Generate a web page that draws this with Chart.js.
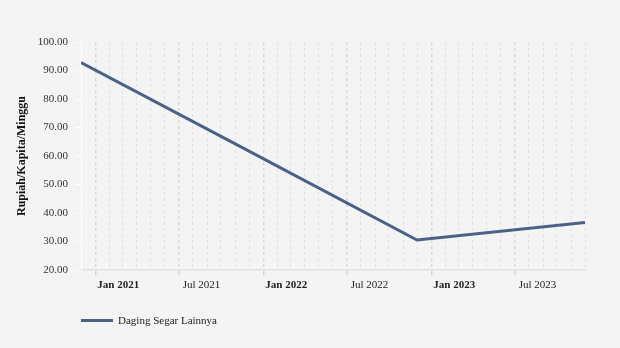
<!DOCTYPE html>
<html>
<head>
<meta charset="utf-8">
<script src="https://cdn.jsdelivr.net/npm/chart.js@4/dist/chart.umd.min.js"></script>
<style>
    html, body { margin: 0; padding: 0; background: #f4f4f4; }
    #wrap { position: relative; width: 620px; height: 348px; }
    #legend { position: absolute; left: 81px; top: 314px; font: 11px 'Liberation Serif', 'Times New Roman', serif; color: #222; }
    #legend .itemMaker { display: inline-block; width: 32px; height: 3px; vertical-align: middle; margin-right: 5px; position: relative; top: -1px; }
</style>
</head>
<body>
<div id="wrap">
    <canvas id="myChart" width="620" height="348"></canvas>
    <div id="legend"></div>
</div>
<script>
// data (annual figures, plotted in December)
const periods = ['2020-12', '2021-12', '2022-12', '2023-12'];
const values = [92.8, 61.7, 30.5, 36.7];
const seriesLabel = 'Daging Segar Lainnya';
const monthNames = ['Jan', 'Feb', 'Mar', 'Apr', 'May', 'Jun', 'Jul', 'Aug', 'Sep', 'Oct', 'Nov', 'Dec'];
const yTicks = [20, 30, 40, 50, 60, 70, 80, 90, 100];

const lineColor = '#4a6286';
const fontFamily = "'Liberation Serif', 'Times New Roman', serif";

function toTime(period) {
    const parts = period.split('-');
    return Date.UTC(+parts[0], +parts[1] - 1, 1);
}

const points = periods.map((p, i) => ({ x: toTime(p), y: values[i] }));
const xMin = points[0].x;
const xMax = points[points.length - 1].x;

function monthTicks() {
    const ticks = [];
    const start = new Date(xMin);
    let y = start.getUTCFullYear(), m = start.getUTCMonth();
    while (true) {
        const t = Date.UTC(y, m, 1);
        if (t > xMax) break;
        if (t >= xMin) ticks.push({ value: t });
        m++;
        if (m > 11) { m = 0; y++; }
    }
    return ticks;
}

function monthOf(value) {
    return new Date(value).getUTCMonth();
}

function isMajor(value) {
    const m = monthOf(value);
    return m === 0 || m === 6;
}

const ctx = document.getElementById('myChart');
const myChart = new Chart(ctx, {
    type: 'line',
    data: {
        datasets: [{
            label: seriesLabel,
            data: points,
            borderColor: lineColor,
            backgroundColor: lineColor,
            borderWidth: 3,
            pointRadius: 0,
            tension: 0
        }]
    },
    options: {
        responsive: false,
        animation: false,
        layout: { padding: { left: 0, right: 35, top: 42, bottom: 0 } },
        plugins: {
            legend: { display: false },
            tooltip: { enabled: false }
        },
        scales: {
            x: {
                type: 'linear',
                min: xMin,
                max: xMax,
                afterBuildTicks: (scale) => { scale.ticks = monthTicks(); },
                afterFit: (scale) => { scale.height = 78; },
                grid: {
                    color: (c) => isMajor(c.tick.value) ? '#d8d8d8' : '#e2e2e2',
                    tickColor: (c) => isMajor(c.tick.value) ? '#d4d4d4' : 'rgba(0,0,0,0)',
                    tickLength: 5,
                    lineWidth: (c) => isMajor(c.tick.value) ? 1.5 : 1
                },
                border: { color: '#e2e2e2', width: 1.5, dash: [3, 3] },
                ticks: {
                    autoSkip: false,
                    maxRotation: 0,
                    padding: 4,
                    labelOffset: 23,
                    color: '#222',
                    font: (c) => ({
                        family: fontFamily,
                        size: 11,
                        weight: (c.tick && monthOf(c.tick.value) === 0) ? 'bold' : 'normal'
                    }),
                    callback: function (val) {
                        const d = new Date(val);
                        const m = d.getUTCMonth();
                        if (m === 0 || m === 6) {
                            return monthNames[m] + ' ' + d.getUTCFullYear();
                        }
                        return '';
                    }
                }
            },
            y: {
                min: 20,
                max: 100,
                afterBuildTicks: (scale) => { scale.ticks = yTicks.map(v => ({ value: v })); },
                afterFit: (scale) => { scale.width = 81; },
                grid: {
                    drawOnChartArea: false,
                    color: '#ffffff',
                    tickLength: 6
                },
                border: { color: '#ffffff', width: 1 },
                ticks: {
                    padding: 7,
                    color: '#333',
                    font: { family: fontFamily, size: 11 },
                    callback: (v) => v.toFixed(2)
                },
                title: {
                    display: true,
                    text: 'Rupiah/Kapita/Minggu',
                    color: '#111',
                    font: { family: fontFamily, size: 12, weight: 'bold' },
                    padding: { top: 15, bottom: 0 }
                }
            }
        }
    }
});

function generateCustomLegend(chart) {
    const legendContainer = document.getElementById('legend');
    legendContainer.innerHTML = '';
    chart.data.datasets.forEach(function (ds) {
        const item = document.createElement('span');
        const bullet = document.createElement('span');
        bullet.className = 'itemMaker';
        bullet.style.backgroundColor = ds.borderColor;
        item.appendChild(bullet);
        item.appendChild(document.createTextNode(ds.label));
        legendContainer.appendChild(item);
    });
}
generateCustomLegend(myChart);
</script>
</body>
</html>
